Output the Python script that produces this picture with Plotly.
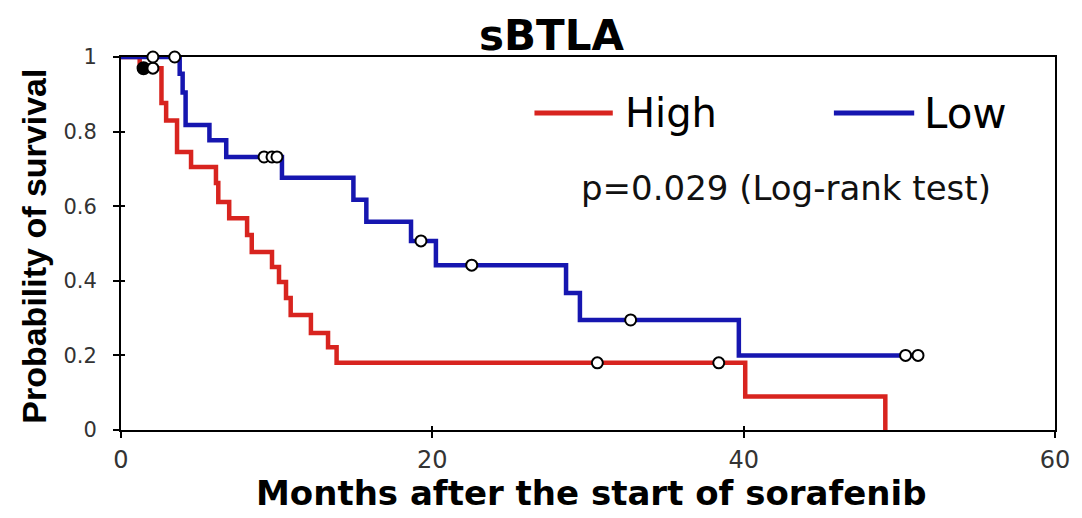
import numpy as np
import plotly.graph_objects as go

# ---- data ----
# High sBTLA group (red): event times (months) and survival level after each step
high_times = [1.2, 2.6, 2.9, 3.6, 4.5, 6.1, 6.25, 6.95, 8.1, 8.4, 9.7, 10.15,
              10.6, 10.9, 12.2, 13.3, 13.85, 40.1, 49.1]
high_surv = [0.97, 0.877, 0.83, 0.745, 0.705, 0.662, 0.611, 0.568, 0.523, 0.477,
             0.437, 0.397, 0.354, 0.308, 0.26, 0.222, 0.18, 0.09, 0.0]
high_censor = [2.05, 30.6, 38.4]
high_censor_blob = [1.45]  # several overlapping censor marks drawn as a dark blob

# Low sBTLA group (blue)
low_times = [3.77, 3.96, 4.15, 5.68, 6.76, 10.34, 14.93, 15.76, 18.63, 20.23,
             28.59, 29.48, 39.69]
low_surv = [0.955, 0.905, 0.818, 0.777, 0.732, 0.676, 0.617, 0.558, 0.507, 0.442,
            0.367, 0.295, 0.2]
low_censor = [2.05, 3.45, 9.19, 9.7, 10.02, 19.27, 22.53, 32.74, 50.4, 51.2]

x_ticks = [0, 20, 40, 60]
y_ticks = [0, 0.2, 0.4, 0.6, 0.8, 1]
y_ticktext = ["0", "0.2", "0.4", "0.6", "0.8", "1"]

title_text = "sBTLA"
legend_names = ["High", "Low"]
p_text = "p=0.029 (Log-rank test)"
x_title = "Months after the start of sorafenib"
y_title = "Probability of survival"

RED = "#d8241f"
BLUE = "#1616b0"


def level_at(t, times, surv):
    idx = np.searchsorted(np.asarray(times), t, side="right")
    return 1.0 if idx == 0 else surv[idx - 1]


def step_curve(times, surv, censor):
    xs = [0.0] + list(times)
    ys = [1.0] + list(surv)
    end = max(censor)
    if end > times[-1]:
        xs.append(end)
        ys.append(surv[-1])
    return xs, ys


fig = go.Figure()

for times, surv, censor, color in [(high_times, high_surv, high_censor, RED),
                                   (low_times, low_surv, low_censor, BLUE)]:
    xs, ys = step_curve(times, surv, censor)
    fig.add_trace(go.Scatter(x=xs, y=ys, mode="lines", line_shape="hv",
                             line=dict(color=color, width=4.5),
                             showlegend=False, hoverinfo="skip"))

# censor marks
fig.add_trace(go.Scatter(x=high_censor_blob,
                         y=[level_at(t, high_times, high_surv) for t in high_censor_blob],
                         mode="markers", cliponaxis=False, showlegend=False,
                         marker=dict(symbol="circle", size=12, color="black",
                                     line=dict(color="black", width=2))))
for times, surv, censor in [(high_times, high_surv, high_censor),
                            (low_times, low_surv, low_censor)]:
    fig.add_trace(go.Scatter(x=censor,
                             y=[level_at(t, times, surv) for t in censor],
                             mode="markers", cliponaxis=False, showlegend=False,
                             marker=dict(symbol="circle", size=11, color="white",
                                         line=dict(color="black", width=2))))

# invisible helper trace so the overlay axes (inner tick marks) are drawn
fig.add_trace(go.Scatter(x=x_ticks[:1], y=y_ticks[:1], xaxis="x2", yaxis="y2",
                         mode="markers", marker=dict(opacity=0),
                         showlegend=False, hoverinfo="skip"))

tick_font_x = dict(family="DejaVu Sans", size=24, color="#333333")
tick_font_y = dict(family="DejaVu Sans", size=21, color="#333333")

# the page body adds an 8 px offset; compensate so the picture lines up
OFF = 8
L, R, T, B = 121 - OFF, 1063 - OFF, 57 - OFF, 430 - OFF
W, H = 1082 - OFF, 518 - OFF

fig.update_layout(
    width=W, height=H,
    margin=dict(l=L, r=W - R, t=T, b=H - B),
    paper_bgcolor="white", plot_bgcolor="white",
    showlegend=False,
    xaxis=dict(range=[0, 60], tickvals=x_ticks, ticks="outside", ticklen=6,
               tickwidth=2, tickcolor="black", showline=True, linewidth=2,
               linecolor="black", mirror=True, showgrid=False, zeroline=False,
               tickfont=tick_font_x, ticklabelstandoff=1, layer="below traces"),
    yaxis=dict(range=[0, 1], tickvals=y_ticks, ticktext=y_ticktext,
               ticks="outside", ticklen=6, tickwidth=2, tickcolor="black",
               showline=True, linewidth=2, linecolor="black", mirror=True,
               showgrid=False, zeroline=False, tickfont=tick_font_y,
               ticklabelstandoff=12, layer="below traces"),
    xaxis2=dict(range=[0, 60], overlaying="x", side="bottom", tickvals=x_ticks,
                ticks="inside", ticklen=4, tickwidth=2, tickcolor="black",
                showticklabels=False, showline=False, showgrid=False,
                zeroline=False, anchor="y2"),
    yaxis2=dict(range=[0, 1], overlaying="y", side="left", tickvals=y_ticks,
                ticks="inside", ticklen=4, tickwidth=2, tickcolor="black",
                showticklabels=False, showline=False, showgrid=False,
                zeroline=False, anchor="x2"),
)


# reference-pixel -> paper coordinates (for legend / text decorations)
def px(x):
    return (x - OFF - L) / (R - L)


def py(y):
    return (B - (y - OFF)) / (B - T)


# legend lines
for (x0, x1), color in [((538, 617), RED), ((840, 921), BLUE)]:
    fig.add_shape(type="line", xref="paper", yref="paper",
                  x0=px(x0), x1=px(x1), y0=py(113), y1=py(113),
                  line=dict(color=color, width=5))

annots = [
    dict(text=legend_names[0], x=px(627), y=py(113), xanchor="left", yanchor="middle",
         font=dict(family="DejaVu Sans", size=40, color="black")),
    dict(text=legend_names[1], x=px(929), y=py(113), xanchor="left", yanchor="middle",
         font=dict(family="DejaVu Sans", size=42, color="black")),
    dict(text=p_text, x=px(583), y=py(188), xanchor="left", yanchor="middle",
         font=dict(family="DejaVu Sans", size=34, color="#111111")),
    dict(text="<b>" + title_text + "</b>", x=px(555), y=py(OFF + 1), xanchor="center",
         yanchor="top", font=dict(family="DejaVu Sans", size=42, color="black")),
    dict(text="<b>" + x_title + "</b>", x=px(596), y=py(493), xanchor="center",
         yanchor="middle", font=dict(family="DejaVu Sans", size=34, color="black")),
    dict(text="<b>" + y_title + "</b>", x=px(33), y=py(246), xanchor="center",
         yanchor="middle", textangle=-90,
         font=dict(family="Liberation Sans", size=34, color="black")),
]
for a in annots:
    fig.add_annotation(xref="paper", yref="paper", showarrow=False, **a)

fig.write_html("out.html")
